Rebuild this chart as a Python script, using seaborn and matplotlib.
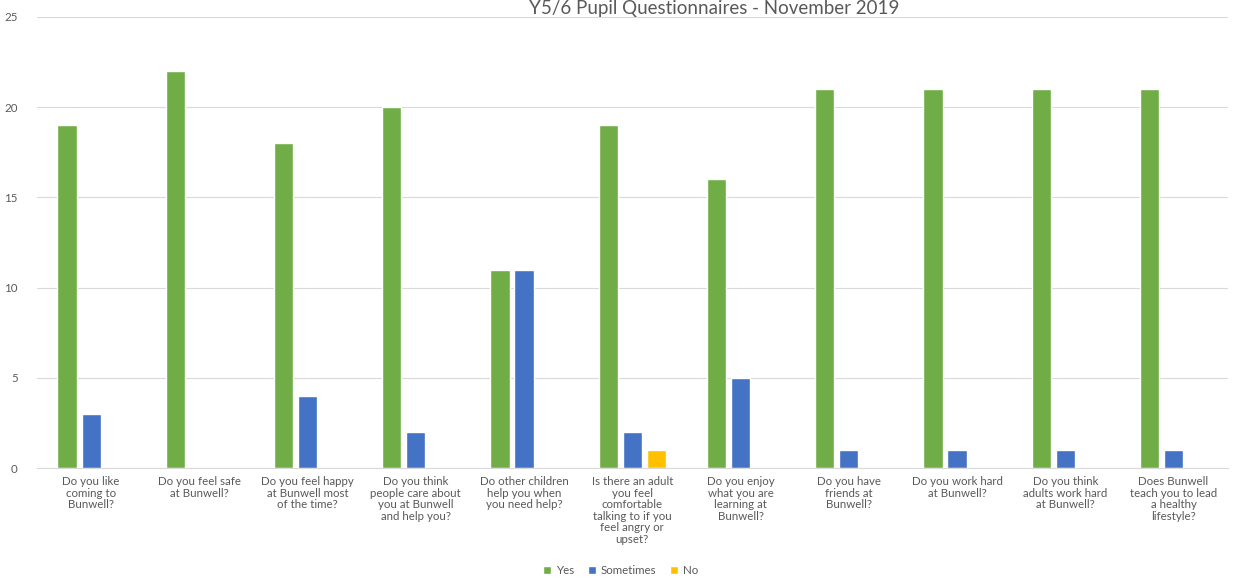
import pandas as pd
import matplotlib
matplotlib.use("Agg")
import matplotlib.pyplot as plt
import seaborn as sns

# ── data ─────────────────────────────────────────────
questions = [
    "Do you like\ncoming to\nBunwell?",
    "Do you feel safe\nat Bunwell?",
    "Do you feel happy\nat Bunwell most\nof the time?",
    "Do you think\npeople care about\nyou at Bunwell\nand help you?",
    "Do other children\nhelp you when\nyou need help?",
    "Is there an adult\nyou feel\ncomfortable\ntalking to if you\nfeel angry or\nupset?",
    "Do you enjoy\nwhat you are\nlearning at\nBunwell?",
    "Do you have\nfriends at\nBunwell?",
    "Do you work hard\nat Bunwell?",
    "Do you think\nadults work hard\nat Bunwell?",
    "Does Bunwell\nteach you to lead\na healthy\nlifestyle?",
]
yes       = [19, 22, 18, 20, 11, 19, 16, 21, 21, 21, 21]
sometimes = [3, 0, 4, 2, 11, 2, 5, 1, 1, 1, 1]
no        = [0, 0, 0, 0, 0, 1, 0, 0, 0, 0, 0]
responses = ["Yes", "Sometimes", "No"]
colors    = ["#70AD47", "#4472C4", "#FFC000"]

rows = []
for name, vals in zip(responses, [yes, sometimes, no]):
    for q, v in zip(questions, vals):
        rows.append({"question": q, "response": name, "count": v})
df = pd.DataFrame(rows)

# ── plot ─────────────────────────────────────────────
sns.set_style("white")
plt.rcParams["font.family"] = ["Lato", "DejaVu Sans"]
text_col = "#595959"

fig = plt.figure(figsize=(12.35, 5.8), dpi=100)
ax = fig.add_axes([0.030, 0.193, 0.964, 0.778])

sns.barplot(data=df, x="question", y="count", hue="response",
            hue_order=responses, palette=colors, order=questions,
            width=0.667, gap=0.2, saturation=1, ax=ax, legend=True)

ax.set_ylim(0, 25)
ax.set_yticks(range(0, 26, 5))
ax.set_xlim(-0.5, len(questions) - 0.5)
ax.yaxis.grid(True, color="#D9D9D9", linewidth=0.8)
ax.set_axisbelow(True)
for s in ["top", "right", "left"]:
    ax.spines[s].set_visible(False)
ax.spines["bottom"].set_color("#D9D9D9")
ax.set_xlabel("")
ax.set_ylabel("")
ax.tick_params(axis="both", length=0, colors=text_col, labelsize=8.3)
ax.tick_params(axis="y", pad=14)
ax.tick_params(axis="x", pad=6)
for lab in ax.get_xticklabels():
    lab.set_linespacing(1.05)

ax.legend(loc="lower center", bbox_to_anchor=(0.49, -0.262), ncol=3,
          frameon=False, fontsize=8.3, handlelength=0.7, handleheight=0.7,
          handletextpad=0.4, columnspacing=1.2, labelcolor=text_col)

fig.text(0.578, 1.0, "Y5/6 Pupil Questionnaires - November 2019",
         ha="center", va="top", fontsize=13.5, color=text_col)

fig.savefig("out.png", dpi=100)
